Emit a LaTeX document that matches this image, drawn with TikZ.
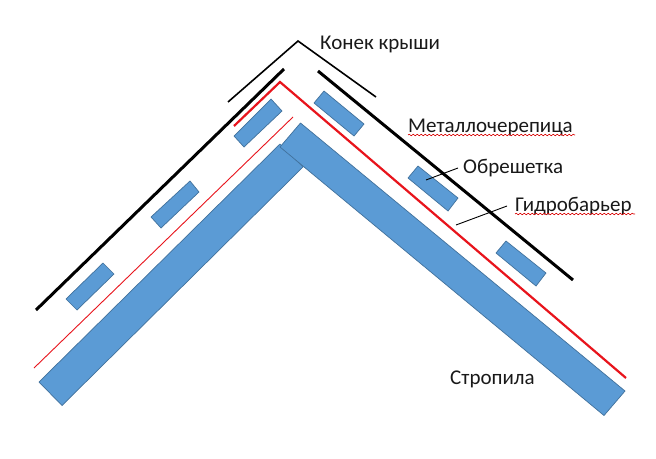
\documentclass[tikz,border=0pt]{standalone}
\usepackage{fontspec}
\setmainfont{Carlito}
\usetikzlibrary{decorations.pathmorphing}
\definecolor{beam}{HTML}{5B9BD5}
\definecolor{beamedge}{HTML}{41719C}
\definecolor{hydro}{HTML}{E8141C}
\tikzset{
  wood/.style={fill=beam,draw=beamedge,line width=0.7pt,line join=miter},
  metal/.style={draw=black,line width=3pt},
  ridge/.style={draw=black,line width=1.6pt,line join=miter},
  barrier/.style={draw=hydro,line width=2.2pt,line join=miter},
  thinbarrier/.style={draw=hydro,line width=0.9pt},
  leader/.style={draw=black,line width=0.9pt},
  lbl/.style={inner sep=0pt,anchor=base west,font=\fontsize{21}{23}\selectfont,text=black!90},
  squiggle/.style={draw=red!85!black,line width=0.6pt,decorate,decoration={snake,amplitude=0.8pt,segment length=4pt}}
}
\begin{document}
\begin{tikzpicture}[x=1pt,y=-1pt]
\useasboundingbox[fill=white] (0,0) rectangle (656,458);
% rafters
\draw[wood] (39,382) -- (280,144) -- (303,167) -- (62,405.5) -- cycle;
\draw[wood] (300.5,123) -- (625,391) -- (604,415.5) -- (280,147) -- cycle;
% battens
\draw[wood] (103,263) -- (114,274) -- (77,310) -- (66,299) -- cycle;
\draw[wood] (190,181) -- (199,192) -- (161,228) -- (151,217) -- cycle;
\draw[wood] (271,99) -- (282,111) -- (244,147) -- (234,136) -- cycle;
\draw[wood] (324,91) -- (364,124) -- (354,136) -- (314,103) -- cycle;
\draw[wood] (418,166) -- (458,198) -- (448,211) -- (408,178) -- cycle;
\draw[wood] (506,241) -- (546,273) -- (536,286) -- (496,253) -- cycle;
% membrane
\draw[barrier] (234,126) -- (280,82) -- (626,378);
\draw[thinbarrier] (34,368) -- (293,117);
% metal roofing
\draw[metal] (36,310) -- (284,69);
\draw[metal] (318,71) -- (573,280);
\draw[ridge] (228,102) -- (298,41) -- (376,97);
% labels
\node[lbl] (konek) at (320,49) {Конек крыши};
\node[lbl] (metall) at (408,132) {Металлочерепица};
\node[lbl] (obr) at (463,173) {Обрешетка};
\node[lbl] (gidro) at (515,211) {Гидробарьер};
\node[lbl] (strop) at (450,384) {Стропила};
% leaders
\coordinate (obrend) at (426,180);
\coordinate (gidroend) at (456,225);
\coordinate (obrstart) at (458,168);
\coordinate (gidrostart) at (507,206);
\draw[leader] (obrstart) -- (obrend);
\draw[leader] (gidrostart) -- (gidroend);
% spell-check underlines
\coordinate (s1a) at (408,135);
\coordinate (s1b) at (575,135);
\coordinate (s2a) at (515,214);
\coordinate (s2b) at (635,214);
\draw[squiggle] (s1a) -- (s1b);
\draw[squiggle] (s2a) -- (s2b);
\end{tikzpicture}
\end{document}
